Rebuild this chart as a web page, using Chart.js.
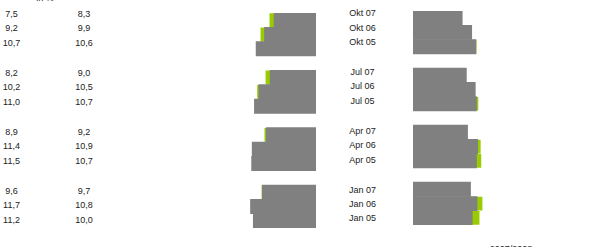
<!DOCTYPE html>
<html>
<head>
<meta charset="utf-8">
<script src="https://cdn.jsdelivr.net/npm/chart.js@4/dist/chart.umd.min.js"></script>
<style>
  html, body { margin: 0; padding: 0; background: #fff; }
  body { width: 608px; height: 247px; position: relative; overflow: hidden;
         font-family: "Liberation Sans", Arial, sans-serif; font-size: 9px; color: #222; }
  .txt { position: absolute; white-space: nowrap; transform: translate(-50%, -50%); line-height: 1; }
  .box { position: absolute; }
</style>
</head>
<body>
<div class="box" id="leftBox" style="left:232px;top:13px;width:84px;height:215px;"><canvas id="leftChart"></canvas></div>
<div class="box" id="rightBox" style="left:413px;top:11px;width:89px;height:214px;"><canvas id="rightChart"></canvas></div>

<script>
// Quartale (von oben nach unten)
const periods = ['Okt 07', 'Okt 06', 'Okt 05', 'Jul 07', 'Jul 06', 'Jul 05',
                 'Apr 07', 'Apr 06', 'Apr 05', 'Jan 07', 'Jan 06', 'Jan 05'];
// erste Zahlenspalte
const valuesA = [7.5, 9.2, 10.7, 8.2, 10.2, 11.0, 8.9, 11.4, 11.5, 9.6, 11.7, 11.2];
// zweite Zahlenspalte
const valuesB = [8.3, 9.9, 10.6, 9.0, 10.5, 10.7, 9.2, 10.9, 10.7, 9.7, 10.8, 10.0];
const unitLabel = 'in %';
const yearLabel = '2007/2008';

const GRAY = '#808080';
const GREEN = '#99cc00';

// Leerzeile nach jeder Dreiergruppe einfügen
function withGaps(arr) {
    const out = [];
    arr.forEach((v, i) => {
        out.push(v);
        if (i % 3 === 2 && i < arr.length - 1) out.push(null);
    });
    return out;
}
const cats = withGaps(periods).map(p => p === null ? '' : p);

function makeChart(id, front, back, reverse) {
    return new Chart(document.getElementById(id), {
        type: 'bar',
        data: {
            labels: cats,
            datasets: [
                { data: withGaps(front), backgroundColor: GRAY, order: 0, barPercentage: 1 },
                // grüner Balken minimal schmaler, damit keine Kanten unter dem grauen durchscheinen
                { data: withGaps(back), backgroundColor: GREEN, order: 1, barPercentage: 0.96 }
            ]
        },
        options: {
            indexAxis: 'y',
            responsive: true,
            maintainAspectRatio: false,
            animation: false,
            layout: { padding: 0 },
            datasets: {
                bar: { grouped: false, categoryPercentage: 1, borderWidth: 0 }
            },
            plugins: { legend: { display: false }, tooltip: { enabled: false } },
            scales: {
                x: { display: false, min: 0, max: 15, reverse: reverse, grid: { display: false } },
                y: { display: false, grid: { display: false } }
            }
        }
    });
}

// links: Spalte A vorne, rechts: Spalte B vorne
makeChart('leftChart', valuesA, valuesB, true);
makeChart('rightChart', valuesB, valuesA, false);

// Texte
function addText(str, x, y) {
    const d = document.createElement('div');
    d.className = 'txt';
    d.textContent = str;
    d.style.left = x + 'px';
    d.style.top = y + 'px';
    document.body.appendChild(d);
}
const fmt = v => v.toFixed(1).replace('.', ',');

periods.forEach((p, i) => {
    const g = Math.floor(i / 3), r = i % 3;
    const yNum = 14 + g * 59 + r * 14.3;
    const yLab = 13.3 + g * 58.8 + r * 14.3;
    addText(fmt(valuesA[i]), 11.5, yNum);
    addText(fmt(valuesB[i]), 84, yNum);
    addText(p, 362.5, yLab);
});
addText(unitLabel, 45, -2);
addText(yearLabel, 511, 249);
</script>
</body>
</html>
